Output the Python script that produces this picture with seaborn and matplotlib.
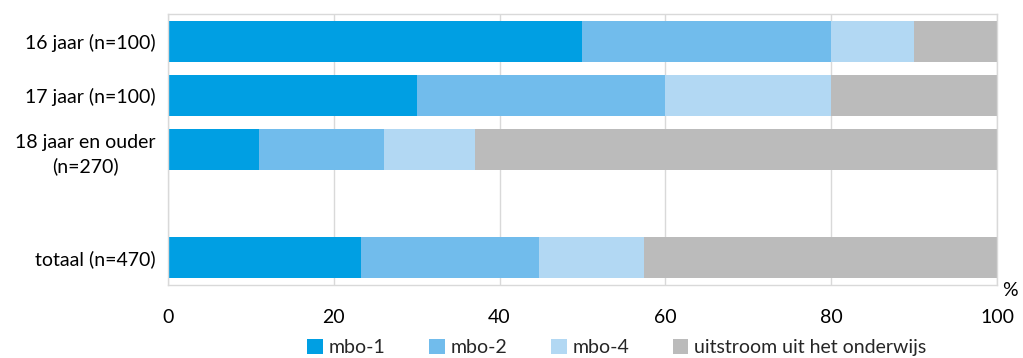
import matplotlib
matplotlib.use("Agg")
import matplotlib.pyplot as plt
from matplotlib.patches import Patch
import numpy as np
import pandas as pd
import seaborn as sns

# Categories (blank slot separates the total from the age groups)
categories = ["16 jaar (n=100)", "17 jaar (n=100)", "18 jaar en ouder\n(n=270)", " ", "totaal (n=470)"]
groups = ["16 jaar (n=100)", "17 jaar (n=100)", "18 jaar en ouder\n(n=270)", "totaal (n=470)"]
series = ["mbo-1", "mbo-2", "mbo-4", "uitstroom uit het onderwijs"]
mbo1 = [50, 30, 11, 23.3]
mbo2 = [30, 30, 15, 21.4]
mbo4 = [10, 20, 11, 12.7]
uitstroom = [10, 20, 63, 42.6]
xticks = [0, 20, 40, 60, 80, 100]
colors = ["#009FE3", "#71BCEC", "#B2D8F3", "#BBBBBB"]

sns.set_theme(style="white")
plt.rcParams["font.family"] = ["Lato", "DejaVu Sans"]
FS = 14

vals = np.array([mbo1, mbo2, mbo4, uitstroom])
cum = np.cumsum(vals, axis=0)

fig = plt.figure(figsize=(10.23, 3.58), dpi=100)
ax = fig.add_axes([0.1642, 0.2039, 0.9746 - 0.1642, 0.9609 - 0.2039])

# Stacked bars: draw cumulative totals from the outermost segment inward
for i in range(len(series) - 1, -1, -1):
    df = pd.DataFrame({"groep": groups, "waarde": cum[i]})
    sns.barplot(data=df, x="waarde", y="groep", order=categories, orient="h",
                color=colors[i], width=0.76, ax=ax, saturation=1, linewidth=0)

ax.set_xlim(0, 100)
ax.set_ylim(4.5, -0.5)
ax.set_xticks(xticks)
ax.set_xticklabels([str(t) for t in xticks])
ax.set_xlabel("")
ax.set_ylabel("")
ax.xaxis.grid(True, color="#D9D9D9", linewidth=1)
ax.set_axisbelow(True)
for s in ax.spines.values():
    s.set_visible(True)
    s.set_color("#D9D9D9")
    s.set_linewidth(1)
ax.tick_params(axis="x", length=0, pad=17, labelsize=FS, colors="#000000")
ax.tick_params(axis="y", length=0, pad=9, labelsize=FS, colors="#000000")
for lab in ax.get_yticklabels():
    lab.set_multialignment("center")
    lab.set_linespacing(1.45)

ax.text(1.016, -0.022, "%", transform=ax.transAxes, ha="center", va="center",
        fontsize=FS, color="#000000")

handles = [Patch(facecolor=c, edgecolor="none") for c in colors]
fig.legend(handles, series, loc="center", bbox_to_anchor=(0.603, 0.03), ncol=4,
           frameon=False, fontsize=FS, handlelength=0.8, handleheight=0.8,
           handletextpad=0.3, columnspacing=2.25)

fig.savefig("out.png", dpi=100)
